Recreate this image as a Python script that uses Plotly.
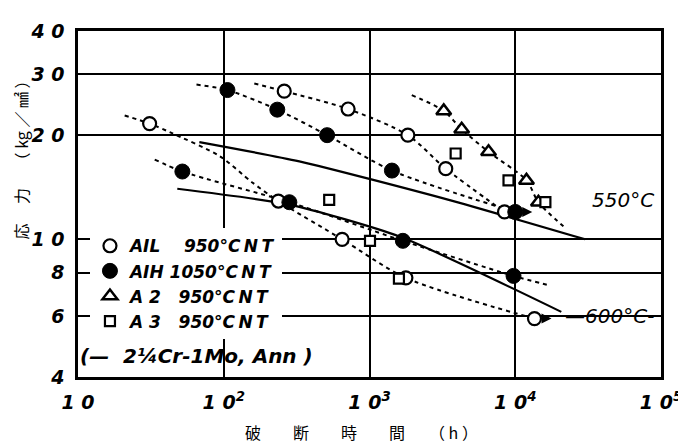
import numpy as np
import plotly.graph_objects as go

# ---------------- data ----------------
# rupture time (h) and stress (kg/mm2)
ail_550_t = [260, 713, 1833, 3335, 8440]
ail_550_s = [26.8, 23.8, 20.0, 16.0, 12.0]
ail_600_t = [31, 237, 649, 1777, 13550]
ail_600_s = [21.6, 12.9, 10.0, 7.74, 5.9]

aih_550_t = [106, 233, 512, 1425, 10000]
aih_550_s = [27.0, 23.7, 20.0, 15.8, 12.0]
aih_600_t = [52, 282, 1694, 9730]
aih_600_s = [15.7, 12.8, 9.9, 7.84]

a2_t = [3231, 4290, 6560, 11940, 14420]
a2_s = [23.5, 20.8, 17.9, 14.8, 12.8]

a3_t = [529, 1008, 1592, 3900, 8990, 16100]
a3_s = [13.0, 9.9, 7.7, 17.7, 14.8, 12.8]

# dashed trend curves
ail550_curve_t = [162, 260, 713, 1833, 3335, 8440]
ail550_curve_s = [28.2, 26.8, 23.8, 20.0, 16.0, 12.0]
aih550_curve_t = [65, 106, 233, 512, 1425, 10000]
aih550_curve_s = [28.0, 27.0, 23.7, 20.0, 15.8, 12.0]
a2_curve_t = [1950, 3231, 4290, 6560, 11940, 14420, 21400]
a2_curve_s = [26.1, 23.5, 20.8, 17.9, 14.8, 12.8, 10.9]
ail600_curve_t = [20.9, 31, 42.6, 93.5, 157, 237, 649, 1777, 13550]
ail600_curve_s = [22.8, 21.6, 20.4, 17.4, 14.6, 12.9, 10.0, 7.74, 5.9]
aih600_curve_t = [33.6, 52, 282, 1694, 9730, 17400]
aih600_curve_s = [17.0, 15.7, 12.8, 9.9, 7.84, 7.35]

# 2 1/4Cr-1Mo annealed reference curves (solid)
cr550_t = [68, 330, 3500, 30200]
cr550_s = [19.1, 16.8, 13.0, 10.0]
cr600_t = [48, 282, 1593, 20700]
cr600_s = [14.0, 12.6, 10.2, 6.17]

# runout points (arrows)
runout_t = [10000, 13550]
runout_s = [12.0, 5.9]

x_tickvals = [10, 100, 1000, 10000, 100000]
x_ticktext = ["1 0", "1 0<sup>2</sup>", "1 0<sup>3</sup>", "1 0<sup>4</sup>", "1 0<sup>5</sup>"]
y_tickvals = [4, 6, 8, 10, 20, 30, 40]
y_ticktext = ["4", "6", "8", "1 0", "2 0", "3 0", "4 0"]

# ---------------- figure ----------------
fig = go.Figure()

dash_style = dict(color="black", width=2, dash="4px,4px")
for t, s in [(ail550_curve_t, ail550_curve_s), (aih550_curve_t, aih550_curve_s),
             (a2_curve_t, a2_curve_s), (ail600_curve_t, ail600_curve_s),
             (aih600_curve_t, aih600_curve_s)]:
    fig.add_trace(go.Scatter(x=t, y=s, mode="lines", line=dict(shape="spline", smoothing=0.8, **dash_style),
                             showlegend=False, hoverinfo="skip"))

for t, s in [(cr550_t, cr550_s), (cr600_t, cr600_s)]:
    fig.add_trace(go.Scatter(x=t, y=s, mode="lines", line=dict(color="black", width=2.2, shape="spline", smoothing=0.6),
                             showlegend=False, hoverinfo="skip"))

NB = "\u00a0"
TS = "\u2009"
CNT = "°C" + TS + "N" + TS + "T"
fig.add_trace(go.Scatter(x=ail_550_t + ail_600_t, y=ail_550_s + ail_600_s, mode="markers",
                         name="AIL" + NB * 4 + "950" + CNT,
                         marker=dict(symbol="circle", size=13, color="white", line=dict(color="black", width=2.2))))
fig.add_trace(go.Scatter(x=aih_550_t + aih_600_t, y=aih_550_s + aih_600_s, mode="markers",
                         name="AIH" + NB + "1050" + CNT,
                         marker=dict(symbol="circle", size=15, color="black", line=dict(color="black", width=1))))
fig.add_trace(go.Scatter(x=a2_t, y=a2_s, mode="markers",
                         name="A" + NB + "2" + NB * 3 + "950" + CNT,
                         marker=dict(symbol="triangle-up", size=13, color="white", line=dict(color="black", width=2.5))))
fig.add_trace(go.Scatter(x=a3_t, y=a3_s, mode="markers",
                         name="A" + NB + "3" + NB * 3 + "950" + CNT,
                         marker=dict(symbol="square", size=10, color="white", line=dict(color="black", width=2.2))))

annotations = []
for t, s in zip(runout_t, runout_s):
    annotations.append(dict(x=np.log10(t), y=np.log10(s), xref="x", yref="y", text="",
                            showarrow=True, ax=-9, ay=0, xshift=17, arrowhead=2, arrowsize=1,
                            arrowwidth=2, arrowcolor="black"))

lab_font = dict(family="DejaVu Sans", size=20, color="black", style="italic")
annotations.append(dict(x=np.log10(54600), y=np.log10(13.0), xref="x", yref="y", text="550°C",
                        showarrow=False, font=lab_font))
annotations.append(dict(x=np.log10(44000), y=np.log10(6.0), xref="x", yref="y", text="—600°C-",
                        showarrow=False, font=lab_font))
annotations.append(dict(x=(78 - 78) / 585, y=(377 - 355) / 356, xref="paper", yref="paper",
                        xanchor="left", yanchor="middle", text="(—" + NB * 2 + "2¼Cr-1Mo," + NB + "Ann" + NB + ")",
                        showarrow=False,
                        font=dict(family="DejaVu Sans", size=20, color="black", style="italic", weight="bold")))
annotations.append(dict(x=(21 - 78) / 585, y=(377 - 150) / 356, xref="paper", yref="paper",
                        xanchor="center", yanchor="middle",
                        text="応　 力　 （ kg ／ ㎟ ）", textangle=-90, showarrow=False,
                        font=dict(family="Noto Sans CJK JP", size=16, color="black")))
annotations.append(dict(x=(362 - 78) / 585, y=(377 - 434) / 356, xref="paper", yref="paper",
                        xanchor="center", yanchor="middle",
                        text="破　　断　　時　　間　　（ h ）", showarrow=False,
                        font=dict(family="Noto Sans CJK JP", size=16, color="black")))

tick_font = dict(family="DejaVu Sans", size=19, color="black", style="italic", weight="bold")
fig.update_layout(
    width=686, height=445,
    # the page body has an 8px margin; plot area lands at x 78..663, y 21..377 on screen
    margin=dict(l=70, r=31, t=13, b=76),
    paper_bgcolor="white", plot_bgcolor="white",
    showlegend=True,
    legend=dict(x=(90 - 78) / 585, y=0.43, xanchor="left", yanchor="top", bgcolor="white",
                font=dict(family="DejaVu Sans", size=17, color="black", style="italic", weight="bold"),
                itemsizing="trace", tracegroupgap=0, borderwidth=0),
    annotations=annotations,
    xaxis=dict(type="log", range=[1, 5], tickvals=x_tickvals, ticktext=x_ticktext,
               showgrid=True, gridcolor="black", gridwidth=2, zeroline=False,
               showline=True, mirror=True, linecolor="black", linewidth=2.5,
               ticks="", tickfont=tick_font, ticklabelstandoff=6),
    yaxis=dict(type="log", range=[np.log10(4), np.log10(40)], tickvals=y_tickvals, ticktext=y_ticktext,
               showgrid=True, gridcolor="black", gridwidth=2, zeroline=False,
               showline=True, mirror=True, linecolor="black", linewidth=2.5,
               ticks="", tickfont=tick_font, ticklabelstandoff=7),
)

fig.write_html("out.html")
